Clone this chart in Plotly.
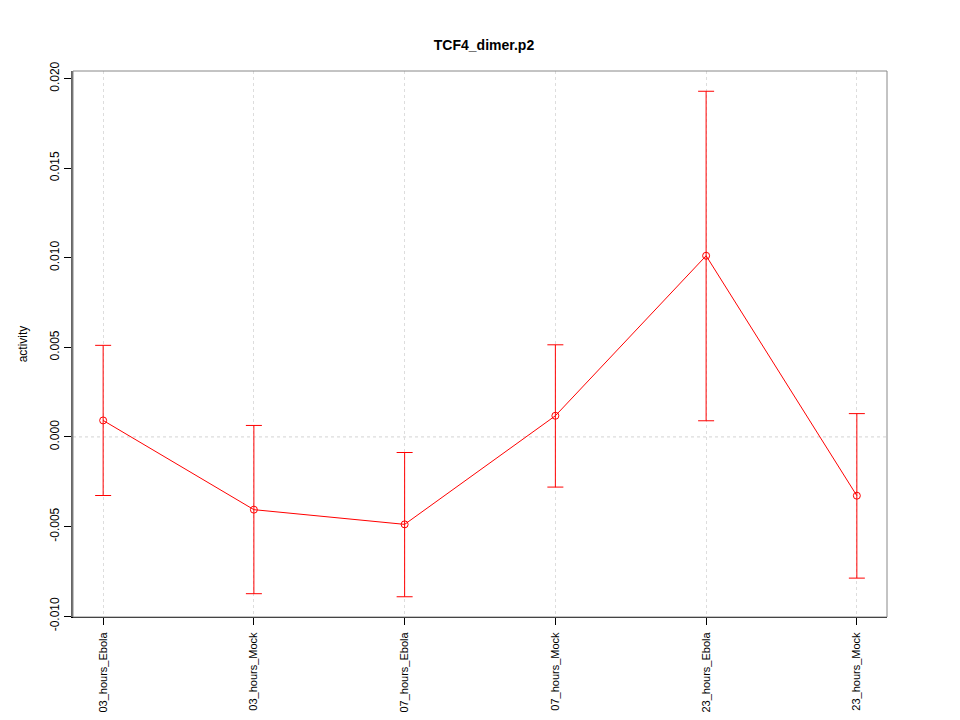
import plotly.graph_objects as go

samples = ["03_hours_Ebola", "03_hours_Mock", "07_hours_Ebola",
           "07_hours_Mock", "23_hours_Ebola", "23_hours_Mock"]
activity = [0.00092, -0.00406, -0.00488, 0.00118, 0.01011, -0.00328]
upper = [0.00511, 0.00064, -0.00087, 0.00514, 0.01929, 0.00130]
lower = [-0.00327, -0.00875, -0.00892, -0.00280, 0.00090, -0.00788]
y_ticks = [-0.010, -0.005, 0.000, 0.005, 0.010, 0.015, 0.020]

x_pos = list(range(1, len(samples) + 1))
err_plus = [u - a for u, a in zip(upper, activity)]
err_minus = [a - l for a, l in zip(activity, lower)]

font = "Liberation Sans, Arial, sans-serif"

fig = go.Figure()
fig.add_trace(go.Scatter(
    x=x_pos, y=activity, mode="lines+markers",
    line=dict(color="#ff0000", width=1),
    marker=dict(symbol="circle-open", size=7, color="#ff0000", line=dict(width=1)),
    error_y=dict(type="data", symmetric=False, array=err_plus, arrayminus=err_minus,
                 color="#ff0000", thickness=1, width=8),
    showlegend=False,
))
fig.add_hline(y=0, line=dict(color="#d3d3d3", width=1, dash="dot"), layer="below")

# R-style box around the plot region
fig.add_shape(type="rect", xref="paper", yref="paper", x0=0, y0=0, x1=1, y1=1,
              line=dict(color="#888888", width=1))

fig.update_xaxes(
    range=[0.8, 6.2], tickmode="array", tickvals=x_pos, ticktext=samples,
    tickangle=-90, ticks="outside", ticklen=7, tickcolor="#000",
    ticklabelstandoff=3,
    showgrid=True, gridcolor="#dddddd", griddash="dot", gridwidth=1,
    showline=True, linecolor="#000", linewidth=1, zeroline=False,
    automargin=False,
    tickfont=dict(family=font, size=11, color="#000"),
)
fig.update_yaxes(
    range=[-0.01005, 0.02042], tickmode="array", tickvals=y_ticks,
    ticktext=[f"{v:.3f}" for v in y_ticks], tickangle=-90,
    ticks="outside", ticklen=7, tickcolor="#000",
    showgrid=False, zeroline=False,
    showline=True, linecolor="#666666", linewidth=2,
    automargin=False,
    tickfont=dict(family=font, size=12, color="#000"),
    title=dict(text="activity", font=dict(family=font, size=12, color="#000"), standoff=18),
)
# the page body adds an 8px margin, so the figure is 8px smaller and margins shifted
fig.update_layout(
    width=952, height=712,
    margin=dict(l=65, r=73, t=63, b=103),
    paper_bgcolor="white", plot_bgcolor="white",
    title=dict(text="<b>TCF4_dimer.p2</b>", x=0.5, xanchor="center",
               y=1 - 37 / 712, yanchor="middle", yref="container",
               font=dict(family=font, size=14, color="#000")),
)

fig.write_html("out.html")
